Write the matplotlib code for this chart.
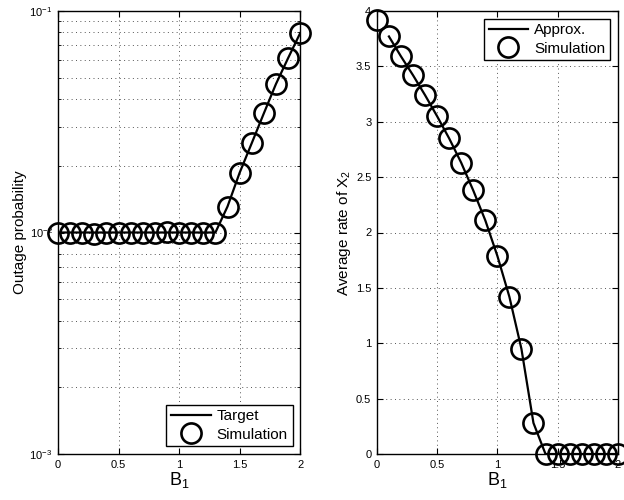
import matplotlib
matplotlib.use('Agg')
import matplotlib.pyplot as plt
from matplotlib.ticker import FormatStrFormatter, LogLocator, NullFormatter

plt.rcParams['font.family'] = ['Liberation Sans', 'DejaVu Sans']
plt.rcParams['mathtext.default'] = 'regular'

# data
b1 = [0.0, 0.1, 0.2, 0.3, 0.4, 0.5, 0.6, 0.7, 0.8, 0.9, 1.0,
      1.1, 1.2, 1.3, 1.4, 1.5, 1.6, 1.7, 1.8, 1.9, 2.0]
outage_target = [0.0100, 0.0100, 0.0100, 0.0100, 0.0100, 0.0100, 0.0100,
                 0.0100, 0.0100, 0.0100, 0.0100, 0.0100, 0.0100, 0.0100,
                 0.0131, 0.0186, 0.0253, 0.0345, 0.0468, 0.0612, 0.0794]
outage_sim = [0.0100, 0.0100, 0.0100, 0.0098, 0.0100, 0.0100, 0.0100,
              0.0100, 0.0100, 0.0101, 0.0100, 0.0099, 0.0100, 0.0100,
              0.0131, 0.0186, 0.0253, 0.0345, 0.0468, 0.0612, 0.0794]

b1_approx = b1[1:]
rate_approx = [3.77, 3.59, 3.42, 3.24, 3.05, 2.85, 2.63, 2.38, 2.11,
               1.79, 1.42, 0.95, 0.28, 0.0, 0.0, 0.0, 0.0, 0.0, 0.0, 0.0]
rate_sim = [3.92, 3.77, 3.59, 3.42, 3.24, 3.05, 2.85, 2.63, 2.38, 2.11,
            1.79, 1.42, 0.95, 0.28, 0.0, 0.0, 0.0, 0.0, 0.0, 0.0, 0.0]

fig = plt.figure(figsize=(6.24, 5.0), dpi=100)
ax1 = fig.add_axes([0.093, 0.092, 0.388, 0.886])
ax2 = fig.add_axes([0.604, 0.092, 0.386, 0.886])

mk = dict(marker='o', markersize=14.5, markerfacecolor='none',
          markeredgecolor='black', markeredgewidth=1.9, linestyle='none',
          clip_on=False, zorder=5)
grid_kw = dict(linestyle=(0, (1, 3.5)), color='#555555', linewidth=0.7)

# left panel
ax1.plot(b1, outage_target, color='black', linewidth=1.6, label='Target', zorder=4)
ax1.plot(b1, outage_sim, label='Simulation', **mk)
ax1.set_yscale('log')
ax1.set_xlim(0, 2)
ax1.set_ylim(1e-3, 1e-1)
ax1.set_xticks([0, 0.5, 1, 1.5, 2])
ax1.xaxis.set_major_formatter(FormatStrFormatter('%g'))
ax1.yaxis.set_minor_locator(LogLocator(base=10, subs=range(2, 10)))
ax1.yaxis.set_minor_formatter(NullFormatter())
ax1.grid(True, which='major', axis='x', **grid_kw)
ax1.grid(True, which='both', axis='y', **grid_kw)
ax1.set_xlabel('B$_1$', fontsize=13, labelpad=0)
ax1.set_ylabel('Outage probability', fontsize=11, labelpad=2)
ax1.legend(loc='lower right', fancybox=False, edgecolor='black', framealpha=1,
           fontsize=11, handlelength=2.6, borderpad=0.3, labelspacing=0.3,
           handletextpad=0.4, borderaxespad=0.5)

# right panel
ax2.plot(b1_approx, rate_approx, color='black', linewidth=1.6, label='Approx.', zorder=4)
ax2.plot(b1, rate_sim, label='Simulation', **mk)
ax2.set_xlim(0, 2)
ax2.set_ylim(0, 4)
ax2.set_xticks([0, 0.5, 1, 1.5, 2])
ax2.set_yticks([0, 0.5, 1, 1.5, 2, 2.5, 3, 3.5, 4])
ax2.xaxis.set_major_formatter(FormatStrFormatter('%g'))
ax2.yaxis.set_major_formatter(FormatStrFormatter('%g'))
ax2.grid(True, **grid_kw)
ax2.set_xlabel('B$_1$', fontsize=13, labelpad=0)
ax2.set_ylabel('Average rate of X$_2$', fontsize=11, labelpad=2)
ax2.legend(loc='upper right', fancybox=False, edgecolor='black', framealpha=1,
           fontsize=11, handlelength=2.6, borderpad=0.3, labelspacing=0.3,
           handletextpad=0.4, borderaxespad=0.5)

for ax in (ax1, ax2):
    ax.set_axisbelow(True)
    ax.tick_params(which='both', direction='in', top=True, right=True,
                   labelsize=8, pad=4)
    ax.tick_params(which='major', length=4)
    ax.tick_params(which='minor', length=2)
    for s in ax.spines.values():
        s.set_linewidth(1.0)
        s.set_zorder(6)

fig.savefig('out.png', dpi=100)
